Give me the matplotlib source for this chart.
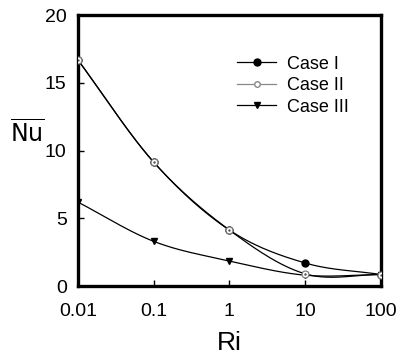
import numpy as np
import matplotlib
matplotlib.use("Agg")
import matplotlib.pyplot as plt

plt.rcParams['font.family'] = ['Liberation Sans Narrow', 'Liberation Sans', 'DejaVu Sans']
plt.rcParams['mathtext.fontset'] = 'custom'
plt.rcParams['mathtext.rm'] = 'Liberation Sans Narrow'

# data
ri = [0.01, 0.1, 1, 10, 100]
case1 = [16.7, 9.15, 4.13, 1.7, 0.85]
case2 = [16.7, 9.15, 4.13, 0.9, 0.85]
case3 = [6.2, 3.3, 1.85, 0.8, 0.85]


def smooth(x, y, n=40):
    # catmull-rom through the points, in log10(x)
    lx = np.log10(x)
    y = np.asarray(y, float)
    px = np.concatenate([[2 * lx[0] - lx[1]], lx, [2 * lx[-1] - lx[-2]]])
    py = np.concatenate([[2 * y[0] - y[1]], y, [2 * y[-1] - y[-2]]])
    xs, ys = [], []
    t = np.linspace(0, 1, n)
    for i in range(1, len(px) - 2):
        for p, out in ((px, xs), (py, ys)):
            p0, p1, p2, p3 = p[i - 1], p[i], p[i + 1], p[i + 2]
            out.append(0.5 * (2 * p1 + (-p0 + p2) * t
                              + (2 * p0 - 5 * p1 + 4 * p2 - p3) * t ** 2
                              + (-p0 + 3 * p1 - 3 * p2 + p3) * t ** 3))
    return 10 ** np.concatenate(xs), np.concatenate(ys)


fig = plt.figure(figsize=(3.99, 3.58), dpi=100)
ax = fig.add_axes([0.195, 0.201, 0.76, 0.757])

for ys in (case3, case2, case1):
    sx, sy = smooth(ri, ys)
    ax.plot(sx, sy, color='black', lw=0.9, zorder=2)

ax.plot(ri, case1, 'o', ms=5, color='black', zorder=4)
ax.plot(ri, case2, 'o', ms=5, mfc='white', mec='#777777', mew=0.8, zorder=5)
ax.plot(ri, case2, '.', ms=1.5, color='#555555', zorder=6)
ax.plot(ri, case3, 'v', ms=5, color='black', zorder=4)

h1, = ax.plot([], [], '-o', color='black', lw=0.9, ms=5)
h2, = ax.plot([], [], '-o', color='#888888', lw=0.9, ms=4, mfc='white')
h3, = ax.plot([], [], '-v', color='black', lw=0.9, ms=5)
ax.legend([h1, h2, h3], ['Case I', 'Case II', 'Case III'], loc='upper left',
          bbox_to_anchor=(0.50, 0.877), frameon=False, fontsize=13,
          handlelength=2.2, handletextpad=0.6, labelspacing=0.25,
          borderaxespad=0)

ax.set_xscale('log')
ax.set_xlim(0.01, 100)
ax.set_ylim(0, 20)
ax.set_xticks(ri)
ax.set_xticklabels(['0.01', '0.1', '1', '10', '100'])
ax.set_yticks([0, 5, 10, 15, 20])
ax.minorticks_off()
ax.tick_params(axis='x', direction='in', length=4, width=1, pad=12, labelsize=14)
ax.tick_params(axis='y', direction='in', length=4, width=1, pad=8, labelsize=14)
for s in ax.spines.values():
    s.set_linewidth(2.4)

ax.set_xlabel('Ri', fontsize=19, va='center')
ax.xaxis.set_label_coords(0.5, -0.21)
ax.set_ylabel(r'$\overline{\mathrm{Nu}}$', fontsize=17, rotation=0, va='center', ha='center')
ax.yaxis.set_label_coords(-0.165, 0.56)

fig.savefig('out.png', dpi=100)
